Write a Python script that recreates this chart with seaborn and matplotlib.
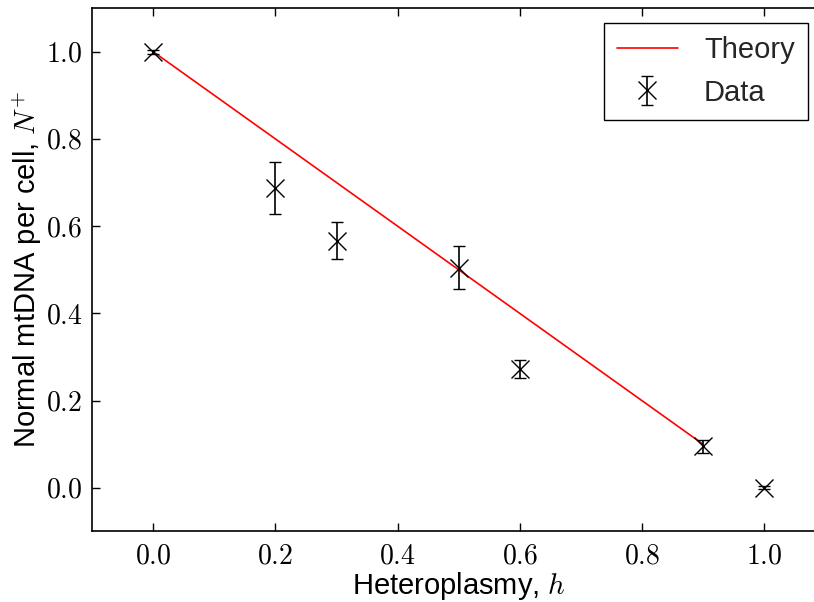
import matplotlib
matplotlib.use("Agg")
import matplotlib.pyplot as plt
from matplotlib.ticker import FuncFormatter, MultipleLocator
import numpy as np
import pandas as pd
import seaborn as sns

# Measured normal mtDNA per cell against heteroplasmy
heteroplasmy = [0.0, 0.2, 0.3, 0.5, 0.6, 0.9, 1.0]
normal_mtdna = [1.0, 0.688, 0.567, 0.505, 0.272, 0.095, 0.0]
normal_err = [0.005, 0.060, 0.042, 0.050, 0.020, 0.015, 0.004]

# Linear theory: N+ = 1 - h
theory_h = [0.0, 0.9]
theory_n = [1.0, 0.1]

sns.set_theme(style="ticks")
plt.rcParams.update({
    "font.family": ["Liberation Sans", "DejaVu Sans"],
    "mathtext.fontset": "cm",
    "xtick.direction": "in",
    "ytick.direction": "in",
    "xtick.top": True,
    "ytick.right": True,
    "xtick.major.size": 6,
    "ytick.major.size": 6,
    "xtick.major.width": 1.0,
    "ytick.major.width": 1.0,
    "xtick.major.pad": 9,
    "ytick.major.pad": 7,
    "axes.edgecolor": "black",
    "axes.linewidth": 1.2,
})

W, H = 814, 602
fig = plt.figure(figsize=(W / 100, H / 100), dpi=100)
left, right, top, bottom = 92.3, 825.0, 8.2, 531.3
ax = fig.add_axes([left / W, 1 - bottom / H, (right - left) / W, (bottom - top) / H])

theory = pd.DataFrame({"h": theory_h, "n": theory_n})
sns.lineplot(data=theory, x="h", y="n", ax=ax, color="red", linewidth=1.2,
             label="Theory")

ax.errorbar(heteroplasmy, normal_mtdna, yerr=normal_err, fmt="x", color="black",
            markersize=13, markeredgewidth=1.0, elinewidth=1.2, capsize=4,
            capthick=1.2, label="Data")

ax.set_xlim(-0.1, 1.1)
ax.set_ylim(-0.1, 1.1)
ax.xaxis.set_major_locator(MultipleLocator(0.2))
ax.yaxis.set_major_locator(MultipleLocator(0.2))
fmt = FuncFormatter(lambda v, pos: r"$%.1f$" % v)
ax.xaxis.set_major_formatter(fmt)
ax.yaxis.set_major_formatter(fmt)
ax.tick_params(labelsize=20, colors="black")

ax.set_xlabel(r"Heteroplasmy, $h$", fontsize=21, color="black", labelpad=0)
ax.set_ylabel(r"Normal mtDNA per cell, $N^{+}$", fontsize=21, color="black",
              labelpad=1)

leg = ax.legend(loc="upper right", bbox_to_anchor=(808 / W, 1 - 23 / H),
                bbox_transform=fig.transFigure, borderaxespad=0, fontsize=21,
                numpoints=1, fancybox=False, framealpha=1, edgecolor="black",
                handlelength=2.1, handletextpad=0.9, labelspacing=0.5,
                borderpad=0.45)
leg.get_frame().set_linewidth(1.0)

fig.savefig("out.png", dpi=100)
